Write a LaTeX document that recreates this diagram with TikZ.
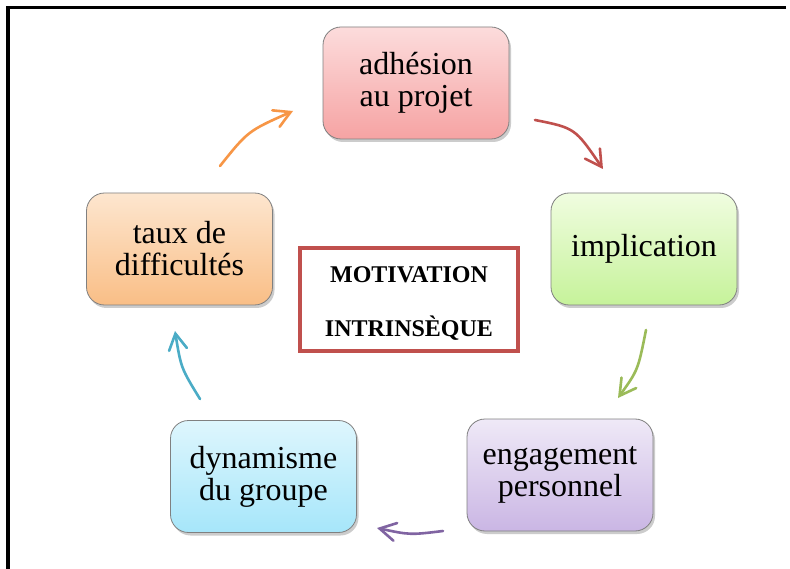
\documentclass[tikz,border=0pt]{standalone}
\usepackage{fontspec}
\setmainfont{Liberation Serif}
\usetikzlibrary{arrows.meta,shadows}
\definecolor{oRed}{HTML}{C0504D}
\definecolor{oGreen}{HTML}{9BBB59}
\definecolor{oPurple}{HTML}{8064A2}
\definecolor{oCyan}{HTML}{4BACC6}
\definecolor{oOrange}{HTML}{F79646}
\definecolor{pinkT}{HTML}{FCDCDC}
\definecolor{pinkB}{HTML}{F6A3A3}
\definecolor{greenT}{HTML}{F0FDE0}
\definecolor{greenB}{HTML}{C6F29A}
\definecolor{purpT}{HTML}{EFE9F7}
\definecolor{purpB}{HTML}{CAB6E4}
\definecolor{cyanT}{HTML}{DEF6FD}
\definecolor{cyanB}{HTML}{A6E6FA}
\definecolor{orgT}{HTML}{FDE6CF}
\definecolor{orgB}{HTML}{F9BE86}
\begin{document}
\begin{tikzpicture}[x=1pt,y=-1pt,
  stage/.style={rounded corners=18pt, draw=black!50, line width=0.8pt,
    minimum width=186pt, minimum height=112pt, align=center, inner sep=0pt,
    font=\fontsize{32}{32}\selectfont,
    drop shadow={opacity=0.4,shadow xshift=2pt,shadow yshift=-3pt}},
  flow/.style={line width=2.6pt, line cap=round,
    -{Straight Barb[length=16pt,width=18pt,line cap=round]}},
  frameline/.style={line width=3.5pt, black},
]
\useasboundingbox (0,0) rectangle (790,569);
\fill[white] (0,0) rectangle (790,569);
\coordinate (ftl) at (8,7.5);
\coordinate (ftr) at (786,7.5);
\coordinate (fbl) at (8,569);
\draw[frameline] (ftr) -- (ftl) -- (fbl);

\node[stage, top color=pinkT, bottom color=pinkB] (A) at (416,83) {adhésion\\au projet};
\node[stage, top color=greenT, bottom color=greenB] (B) at (644,249) {implication};
\node[stage, top color=purpT, bottom color=purpB] (C) at (560,475) {engagement\\personnel};
\node[stage, top color=cyanT, bottom color=cyanB] (D) at (263.5,476.5) {dynamisme\\du groupe};
\node[stage, top color=orgT, bottom color=orgB] (E) at (179.5,249) {taux de\\difficultés};

\node[draw=oRed, line width=4pt, fill=white, minimum width=218pt, minimum height=103pt,
  inner sep=0pt] (M) at (409,299.5) {};
\node[align=center, inner sep=0pt, font=\fontsize{24}{54}\selectfont\bfseries] (Mt)
  at ([yshift=-4pt]M.center) {MOTIVATION\\INTRINSÈQUE};

\coordinate (r1) at (535,120); \coordinate (r2) at (603,169);
\coordinate (g1) at (646,330); \coordinate (g2) at (618,398);
\coordinate (p1) at (443,531); \coordinate (p2) at (377,528);
\coordinate (c1) at (200,399); \coordinate (c2) at (175,331);
\coordinate (o1) at (220,166); \coordinate (o2) at (293,111);

\draw[flow, oRed] (r1) .. controls (575,128) .. (r2);
\draw[flow, oGreen] (g1) .. controls (638,370) .. (g2);
\draw[flow, oPurple] (p1) .. controls (410,535) .. (p2);
\draw[flow, oCyan] (c1) .. controls (181,368) .. (c2);
\draw[flow, oOrange] (o1) .. controls (248,131) .. (o2);
\end{tikzpicture}
\end{document}
